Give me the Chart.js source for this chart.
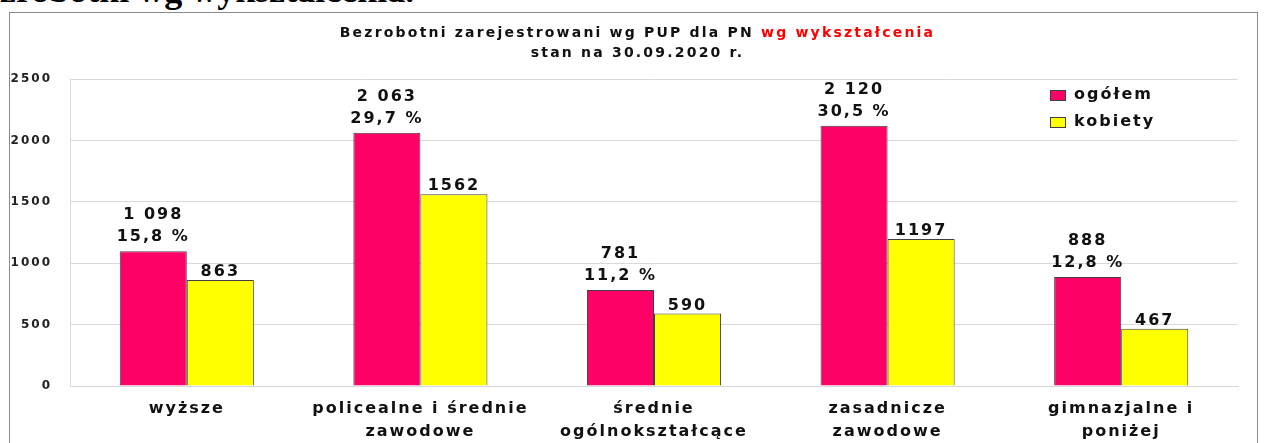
<!DOCTYPE html>
<html>
<head>
<meta charset="utf-8">
<script src="https://cdn.jsdelivr.net/npm/chart.js@4"></script>
<style>
  body { margin: 0; background: #fff; width: 1265px; height: 443px; overflow: hidden; position: relative; }
  #naglowek { position: absolute; left: -40px; top: -28px; font: bold 36px/36px "Liberation Serif", serif; white-space: nowrap; color: #000; }
  #ramka { position: absolute; left: 9px; top: 12px; width: 1247px; height: 440px; border: 1px solid #8a8a8a; }
  #tytul { position: absolute; left: 5px; width: 1265px; top: 22px; text-align: center; font: bold 14px/20px "DejaVu Sans", sans-serif; letter-spacing: 2.2px; color: #111; }
  #tytul span { color: #ff0000; }
  #wykres { position: absolute; left: 0; top: 0; }
</style>
</head>
<body>
<div id="naglowek">Bezrobotni wg wykształcenia.</div>
<div id="ramka"></div>
<canvas id="wykres" width="1265" height="443"></canvas>
<div id="tytul">Bezrobotni zarejestrowani wg PUP dla PN <span>wg wykształcenia</span><br>stan na 30.09.2020 r.</div>
<script>
const kategorie = [
  ["wyższe"],
  ["policealne i średnie", "zawodowe"],
  ["średnie", "ogólnokształcące"],
  ["zasadnicze", "zawodowe"],
  ["gimnazjalne i", "poniżej"]
];
const ogolem = [1098, 2063, 781, 2120, 888];
const kobiety = [863, 1562, 590, 1197, 467];
const procenty = ["15,8 %", "29,7 %", "11,2 %", "30,5 %", "12,8 %"];

const fontEtykiet = 'bold 16px "DejaVu Sans", sans-serif';

function formatujTysiace(v) {
  return String(v).replace(/\B(?=(\d{3})+(?!\d))/g, " ");
}

// tekst w oryginale jest rozciagniety w poziomie, wiec dodaje odstep miedzy literami
const rozstrzelenie = {
  id: "rozstrzelenie",
  beforeDraw(chart) { chart.ctx.letterSpacing = "2px"; },
  afterDraw(chart) { chart.ctx.letterSpacing = "0px"; }
};

const etykietyPlugin = {
  id: "etykiety",
  afterDatasetsDraw(chart) {
    const ctx = chart.ctx;
    ctx.save();
    ctx.letterSpacing = "2px";
    ctx.font = fontEtykiet;
    ctx.fillStyle = "#111";
    ctx.textAlign = "center";
    ctx.textBaseline = "middle";

    chart.getDatasetMeta(0).data.forEach((bar, i) => {
      ctx.fillText(formatujTysiace(ogolem[i]), bar.x, bar.y - 36);
      ctx.fillText(procenty[i], bar.x, bar.y - 14);
    });
    chart.getDatasetMeta(1).data.forEach((bar, i) => {
      ctx.fillText(String(kobiety[i]), bar.x, bar.y - 8);
    });

    // legenda w obszarze wykresu
    const lx = 1050;
    const ly = [95, 122];
    chart.data.datasets.forEach((ds, i) => {
      ctx.fillStyle = ds.backgroundColor;
      ctx.fillRect(lx, ly[i] - 5, 16, 11);
      ctx.strokeStyle = "#404040";
      ctx.lineWidth = 1;
      ctx.strokeRect(lx + 0.5, ly[i] - 4.5, 15, 10);
      ctx.fillStyle = "#111";
      ctx.textAlign = "left";
      ctx.fillText(ds.label, lx + 24, ly[i]);
    });
    ctx.restore();
  }
};

new Chart(document.getElementById("wykres"), {
  type: "bar",
  data: {
    labels: kategorie,
    datasets: [
      {
        label: "ogółem",
        data: ogolem,
        backgroundColor: "#ff0066",
        borderColor: "#404040",
        borderWidth: 1,
        categoryPercentage: 0.574,
        barPercentage: 1.0
      },
      {
        label: "kobiety",
        data: kobiety,
        backgroundColor: "#ffff00",
        borderColor: "#404040",
        borderWidth: 1,
        categoryPercentage: 0.574,
        barPercentage: 1.0
      }
    ]
  },
  options: {
    responsive: false,
    animation: false,
    layout: { padding: { top: 79, right: 27, left: 0, bottom: 0 } },
    plugins: {
      legend: { display: false },
      title: { display: false },
      tooltip: { enabled: false }
    },
    scales: {
      y: {
        min: 0,
        max: 2500,
        ticks: {
          stepSize: 500,
          padding: 18,
          color: "#222",
          font: { family: "DejaVu Sans", size: 12, weight: "bold" },
          callback: (v) => String(v)
        },
        grid: { color: "#d9d9d9", drawTicks: false },
        border: { display: true, color: "#d9d9d9" },
        afterFit(scale) { scale.width = 70; }
      },
      x: {
        grid: { display: false },
        border: { display: true, color: "#d9d9d9" },
        ticks: {
          maxRotation: 0,
          autoSkip: false,
          padding: 4,
          color: "#111",
          font: { family: "DejaVu Sans", size: 16, weight: "bold", lineHeight: 1.4 }
        },
        afterFit(scale) { scale.height = 57; }
      }
    }
  },
  plugins: [rozstrzelenie, etykietyPlugin]
});
</script>
</body>
</html>
